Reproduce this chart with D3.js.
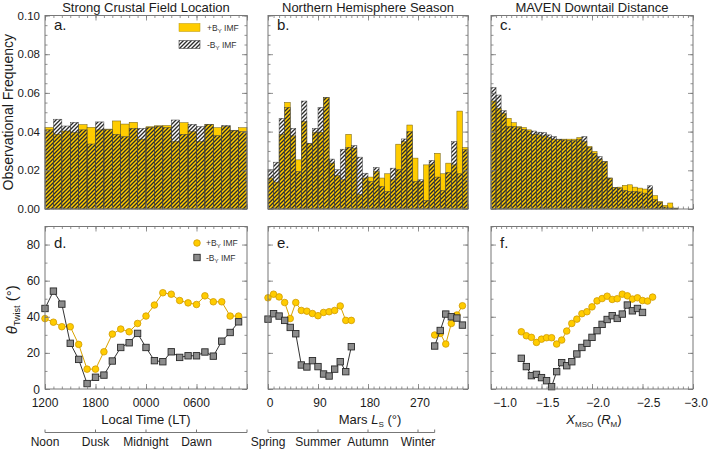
<!DOCTYPE html>
<html>
<head>
<meta charset="utf-8">
<script src="https://cdn.jsdelivr.net/npm/d3@7"></script>
<style>
  body { margin: 0; background: #fff; }
  svg { display: block; font-family: "Liberation Sans", Arial, sans-serif; }
</style>
</head>
<body>
<script>
// ---- data ----
// panel a: local time bins (hour start, 12 = noon, 24 = midnight)
var ltBins = [12, 13, 14, 15, 16, 17, 18, 19, 20, 21, 22, 23, 24, 25, 26, 27, 28, 29, 30, 31, 32, 33, 34, 35];
var freqPosA = [0.0421, 0.0386, 0.0403, 0.0395, 0.0436, 0.0422, 0.0409, 0.0413, 0.0455, 0.0439, 0.0448, 0.0361,
  0.0425, 0.0430, 0.0431, 0.0349, 0.0446, 0.0400, 0.0349, 0.0438, 0.0420, 0.0426, 0.0407, 0.0420];
var freqNegA = [0.0409, 0.0464, 0.0429, 0.0448, 0.0409, 0.0336, 0.0450, 0.0410, 0.0386, 0.0374, 0.0417, 0.0417,
  0.0422, 0.0428, 0.0421, 0.0460, 0.0386, 0.0438, 0.0426, 0.0438, 0.0379, 0.0432, 0.0407, 0.0400];

// panel b: Mars Ls bins (10 deg)
var lsBins = [0, 10, 20, 30, 40, 50, 60, 70, 80, 90, 100, 110, 120, 130, 140, 150, 160, 170,
  180, 190, 200, 210, 220, 230, 240, 250, 260, 270, 280, 290, 300, 310, 320, 330, 340, 350];
var freqPosB = [0.0160, 0.0139, 0.0386, 0.0551, 0.0378, 0.0254, 0.0452, 0.0338, 0.0395, 0.0397, 0.0575, 0.0237,
  0.0172, 0.0151, 0.0386, 0.0314, 0.0074, 0.0160, 0.0165, 0.0194, 0.0160, 0.0182, 0.0151, 0.0335,
  0.0348, 0.0434, 0.0263, 0.0142, 0.0228, 0.0232, 0.0288, 0.0182, 0.0237, 0.0228, 0.0506, 0.0318];
var freqNegB = [0.0203, 0.0242, 0.0469, 0.0525, 0.0417, 0.0194, 0.0558, 0.0340, 0.0417, 0.0525, 0.0577, 0.0258,
  0.0203, 0.0309, 0.0319, 0.0328, 0.0268, 0.0185, 0.0142, 0.0215, 0.0117, 0.0091, 0.0211, 0.0203,
  0.0362, 0.0400, 0.0142, 0.0151, 0.0045, 0.0251, 0.0165, 0.0096, 0.0189, 0.0348, 0.0182, 0.0306];

// panel c: X_MSO bins (0.05 RM, bin start)
var xBins = [-1.00, -1.05, -1.10, -1.15, -1.20, -1.25, -1.30, -1.35, -1.40, -1.45, -1.50, -1.55, -1.60, -1.65,
  -1.70, -1.75, -1.80, -1.85, -1.90, -1.95, -2.00, -2.05, -2.10, -2.15, -2.20, -2.25, -2.30, -2.35,
  -2.40, -2.45, -2.50, -2.55, -2.60, -2.65, -2.70, -2.75, -2.80, -2.85, -2.90, -2.95];
var freqPosC = [0.0558, 0.0520, 0.0494, 0.0469, 0.0446, 0.0426, 0.0421, 0.0409, 0.0386, 0.0383, 0.0378, 0.0369,
  0.0361, 0.0360, 0.0361, 0.0361, 0.0361, 0.0369, 0.0348, 0.0323, 0.0297, 0.0258, 0.0245, 0.0160,
  0.0112, 0.0113, 0.0122, 0.0125, 0.0113, 0.0108, 0.0103, 0.0100, 0.0069, 0.0039, 0.0019, 0.0031,
  0.0005, 0, 0, 0];
var freqNegC = [0.0628, 0.0589, 0.0508, 0.0426, 0.0426, 0.0421, 0.0412, 0.0403, 0.0403, 0.0397, 0.0395, 0.0383,
  0.0374, 0.0361, 0.0357, 0.0354, 0.0354, 0.0361, 0.0374, 0.0319, 0.0288, 0.0271, 0.0245, 0.0160,
  0.0112, 0.0108, 0.0096, 0.0091, 0.0091, 0.0088, 0.0082, 0.0120, 0.0048, 0.0034, 0.0010, 0.0005,
  0.0002, 0, 0, 0];

// panel d: twist angle vs local time
var ltPts = [12, 13, 14, 15, 16, 17, 18, 19, 20, 21, 22, 23, 24, 25, 26, 27, 28, 29, 30, 31, 32, 33, 34, 35];
var twistPosD = [39, 37, 34.5, 34.5, 24.7, 11, 11, 20.6, 30.4, 33.2, 31.7, 36.3, 40.4, 46.5, 53.3, 52.5,
  49, 47.7, 46.8, 51.6, 48.3, 48.3, 40.4, 40.4];
var twistNegD = [44.6, 54.2, 47, 25.3, 16.4, 3, 6.5, 7.7, 15.5, 23, 25.6, 30.8, 23, 15.7, 15.1, 20.6,
  17.5, 18.4, 18.4, 20.5, 18.2, 26.5, 31.3, 37.2];

// panel e: twist angle vs Ls (no data 160-290)
var lsPts = [0, 10, 20, 30, 40, 50, 60, 70, 80, 90, 100, 110, 120, 130, 140, 150, 300, 310, 320, 330, 340, 350];
var twistPosE = [50.5, 52.5, 51, 47.9, 39, 47.9, 43.5, 43.1, 41.8, 40.6, 42.4, 42.8, 43.5, 46, 38, 38,
  29.9, 30.8, 24.9, 36.3, 41, 46.1];
var twistNegE = [38.7, 41.7, 40.4, 38, 34.1, 30.6, 13.3, 12.2, 15.7, 12.4, 8.3, 7.2, 11, 15.1, 9.6, 23.4,
  23.8, 32.4, 41.5, 40, 39.3, 35.4];

// panel f: twist angle vs X_MSO
var xPtsPos = [-1.30, -1.35, -1.40, -1.45, -1.50, -1.55, -1.60, -1.65, -1.70, -1.75, -1.80, -1.85, -1.90, -1.95,
  -2.00, -2.05, -2.10, -2.15, -2.20, -2.25, -2.30, -2.35, -2.40, -2.45, -2.50, -2.55, -2.60];
var twistPosF = [31.7, 29.5, 28.6, 25.8, 27.6, 28.4, 28.4, 24.9, 27.1, 32.1, 36.3, 38.7, 41.7, 42.8, 45.5,
  48.8, 50.1, 51.4, 49.6, 50, 52.5, 51.6, 49.8, 50.5, 49, 48.7, 50.9];
var xPtsNeg = [-1.30, -1.35, -1.40, -1.45, -1.50, -1.55, -1.60, -1.65, -1.70, -1.75, -1.80, -1.85, -1.90, -1.95,
  -2.00, -2.05, -2.10, -2.15, -2.20, -2.25, -2.30, -2.35, -2.40, -2.45, -2.50];
var twistNegF = [17, 12.4, 7.4, 8.1, 6.3, 4.6, 1.3, 9.6, 14.6, 12.9, 15.1, 19.4, 23, 25.3, 28.6, 32.3,
  35.8, 38.5, 40.6, 39.1, 41.5, 46.5, 43.3, 44.6, 42.4];

// tick labels
var freqTicks = [0, 0.02, 0.04, 0.06, 0.08, 0.10];
var twistTicks = [0, 20, 40, 60, 80];
var ltTicks = [12, 18, 24, 30];
var lsTicks = [0, 90, 180, 270];
var xTicks = [-1.0, -1.5, -2.0, -2.5, -3.0];
var dayNames = ["Noon", "Dusk", "Midnight", "Dawn"];
var seasonNames = ["Spring", "Summer", "Autumn", "Winter"];
var titles = ["Strong Crustal Field Location", "Northern Hemisphere Season", "MAVEN Downtail Distance"];

// ---- layout ----
var yellow = "#ffcc00";
var frameColor = "#777";
var textColor = "#1a1a1a";

var svg = d3.select("body").append("svg")
  .attr("width", 709)
  .attr("height", 449);

var defs = svg.append("defs");
var pat = defs.append("pattern")
  .attr("id", "hatch")
  .attr("patternUnits", "userSpaceOnUse")
  .attr("width", 4)
  .attr("height", 4);
pat.append("path")
  .attr("d", "M-1,1 l2,-2 M0,4 l4,-4 M3,5 l2,-2")
  .attr("stroke", "#2b2b2b")
  .attr("stroke-width", 1.35);

var xLT = d3.scaleLinear().domain([12, 36]).range([45, 247]);
var xLS = d3.scaleLinear().domain([0, 360]).range([268, 468]);
var xX = d3.scaleLinear().domain([-1, -3]).range([491, 693]);
var yFreq = d3.scaleLinear().domain([0, 0.1]).range([209, 15.5]);
var yTw = d3.scaleLinear().domain([0, 90]).range([389, 226.5]);

// ticks pointing into the frame on one side
function sideTicks(scale, orient, pos, values, len) {
  var mk = { bottom: d3.axisBottom, top: d3.axisTop, left: d3.axisLeft, right: d3.axisRight }[orient];
  var axis = mk(scale).tickValues(values).tickSizeInner(-len).tickSizeOuter(0).tickFormat("");
  var horiz = orient === "bottom" || orient === "top";
  var g = svg.append("g")
    .attr("transform", horiz ? "translate(0," + pos + ")" : "translate(" + pos + ",0)")
    .call(axis);
  g.select(".domain").remove();
  g.selectAll("text").remove();
  g.selectAll("line").attr("stroke", frameColor).attr("stroke-width", 0.8);
}

function frame(xs, ys, xMajor, xMinor, yMajor, yMinor) {
  var x0 = xs.range()[0], x1 = xs.range()[1];
  var y0 = ys.range()[1], y1 = ys.range()[0];
  [["bottom", y1], ["top", y0]].forEach(function (s) {
    sideTicks(xs, s[0], s[1], xMinor, 2.5);
    sideTicks(xs, s[0], s[1], xMajor, 5);
  });
  [["left", x0], ["right", x1]].forEach(function (s) {
    sideTicks(ys, s[0], s[1], yMinor, 2.5);
    sideTicks(ys, s[0], s[1], yMajor, 5);
  });
  svg.append("rect")
    .attr("x", x0).attr("y", y0)
    .attr("width", x1 - x0).attr("height", y1 - y0)
    .attr("fill", "none")
    .attr("stroke", frameColor)
    .attr("stroke-width", 1);
}

function histogram(xs, bins, width, pos, neg) {
  var g = svg.append("g");
  g.selectAll(".pos").data(bins).enter().append("rect")
    .attr("class", "pos")
    .attr("x", function (d) { return Math.min(xs(d), xs(d + width)); })
    .attr("width", function (d) { return Math.abs(xs(d + width) - xs(d)); })
    .attr("y", function (d, i) { return yFreq(pos[i]); })
    .attr("height", function (d, i) { return yFreq(0) - yFreq(pos[i]); })
    .attr("fill", yellow)
    .attr("stroke", "#6b5a10")
    .attr("stroke-width", 0.5);
  g.selectAll(".neg").data(bins).enter().append("rect")
    .attr("class", "neg")
    .attr("x", function (d) { return Math.min(xs(d), xs(d + width)); })
    .attr("width", function (d) { return Math.abs(xs(d + width) - xs(d)); })
    .attr("y", function (d, i) { return yFreq(neg[i]); })
    .attr("height", function (d, i) { return yFreq(0) - yFreq(neg[i]); })
    .attr("fill", "url(#hatch)")
    .attr("stroke", "#444")
    .attr("stroke-width", 0.5);
}

// split a series into runs where consecutive x are one step apart
function runs(xs, ys, step) {
  var out = [], cur = [];
  xs.forEach(function (x, i) {
    if (cur.length && Math.abs(x - cur[cur.length - 1][0]) > step * 1.5) { out.push(cur); cur = []; }
    cur.push([x, ys[i]]);
  });
  if (cur.length) out.push(cur);
  return out;
}

function lineSeries(xs, xVals, yVals, step, kind) {
  var line = d3.line().x(function (d) { return xs(d[0]); }).y(function (d) { return yTw(d[1]); });
  var pts = xVals.map(function (x, i) { return [x, yVals[i]]; });
  var g = svg.append("g");
  runs(xVals, yVals, step).forEach(function (r) {
    g.append("path").attr("d", line(r)).attr("fill", "none")
      .attr("stroke", kind === "pos" ? "#d9a300" : "#333")
      .attr("stroke-width", 1);
  });
  if (kind === "pos") {
    g.selectAll("circle").data(pts).enter().append("circle")
      .attr("cx", function (d) { return xs(d[0]); })
      .attr("cy", function (d) { return yTw(d[1]); })
      .attr("r", 3.3)
      .attr("fill", yellow)
      .attr("stroke", "#d19a00")
      .attr("stroke-width", 0.8);
  } else {
    g.selectAll("rect").data(pts).enter().append("rect")
      .attr("x", function (d) { return xs(d[0]) - 3.2; })
      .attr("y", function (d) { return yTw(d[1]) - 3.2; })
      .attr("width", 6.4).attr("height", 6.4)
      .attr("fill", "#8c8c8c")
      .attr("stroke", "#2a2a2a")
      .attr("stroke-width", 0.9);
  }
}

// ---- top row: histograms ----
histogram(xLT, ltBins, 1, freqPosA, freqNegA);
histogram(xLS, lsBins, 10, freqPosB, freqNegB);
histogram(xX, xBins, -0.05, freqPosC, freqNegC);

var freqMinor = d3.range(0, 0.1001, 0.005);
var ltMinor = d3.range(12, 36.01, 1), ltMajor = [12, 18, 24, 30, 36];
var lsMinor = d3.range(0, 360.1, 10), lsMajor = [0, 90, 180, 270, 360];
var xMinor = d3.range(-1, -3.001, -0.05), xMajor = [-1, -1.5, -2, -2.5, -3];
var twMinor = d3.range(0, 90.1, 10), twMajor = [0, 20, 40, 60, 80];

frame(xLT, yFreq, ltMajor, ltMinor, freqTicks, freqMinor);
frame(xLS, yFreq, lsMajor, lsMinor, freqTicks, freqMinor);
frame(xX, yFreq, xMajor, xMinor, freqTicks, freqMinor);

// ---- bottom row: twist angle ----
lineSeries(xLT, ltPts, twistPosD, 1, "pos");
lineSeries(xLT, ltPts, twistNegD, 1, "neg");
lineSeries(xLS, lsPts, twistPosE, 10, "pos");
lineSeries(xLS, lsPts, twistNegE, 10, "neg");
lineSeries(xX, xPtsPos, twistPosF, 0.05, "pos");
lineSeries(xX, xPtsNeg, twistNegF, 0.05, "neg");

frame(xLT, yTw, ltMajor, ltMinor, twMajor, twMinor);
frame(xLS, yTw, lsMajor, lsMinor, twMajor, twMinor);
frame(xX, yTw, xMajor, xMinor, twMajor, twMinor);

// ---- text ----
var txt = svg.append("g").attr("fill", textColor);

titles.forEach(function (t, i) {
  var xs = [xLT, xLS, xX][i];
  txt.append("text")
    .attr("x", (xs.range()[0] + xs.range()[1]) / 2)
    .attr("y", 11.5)
    .attr("text-anchor", "middle")
    .attr("font-size", 13)
    .text(t);
});

["a.", "b.", "c."].forEach(function (t, i) {
  var xs = [xLT, xLS, xX][i];
  txt.append("text").attr("x", xs.range()[0] + 9).attr("y", 30)
    .attr("font-size", 15).text(t);
});
["d.", "e.", "f."].forEach(function (t, i) {
  var xs = [xLT, xLS, xX][i];
  txt.append("text").attr("x", xs.range()[0] + 9).attr("y", 248)
    .attr("font-size", 15).text(t);
});

// y tick labels
freqTicks.forEach(function (v) {
  txt.append("text").attr("x", 40).attr("y", yFreq(v) + 4)
    .attr("text-anchor", "end").attr("font-size", 11.5).text(d3.format(".2f")(v));
});
twistTicks.forEach(function (v) {
  txt.append("text").attr("x", 40).attr("y", yTw(v) + 4.5)
    .attr("text-anchor", "end").attr("font-size", 12).text(v);
});

// y axis titles
txt.append("text")
  .attr("transform", "translate(13," + (yFreq(0.05)) + ") rotate(-90)")
  .attr("text-anchor", "middle")
  .attr("font-size", 14)
  .text("Observational Frequency");

var th = txt.append("text")
  .attr("transform", "translate(17," + (yTw(45) + 2) + ") rotate(-90)")
  .attr("text-anchor", "middle")
  .attr("font-size", 15);
th.append("tspan").attr("font-style", "italic").text("\u03b8");
th.append("tspan").attr("font-size", 9).attr("dy", 3).text("Twist");
th.append("tspan").attr("dy", -3).text(" (\u00b0)");

// x tick labels
ltTicks.forEach(function (v) {
  txt.append("text").attr("x", xLT(v)).attr("y", 407)
    .attr("text-anchor", "middle").attr("font-size", 12)
    .text(d3.format("02d")(v % 24) + "00");
});
lsTicks.forEach(function (v) {
  txt.append("text").attr("x", xLS(v) + 2).attr("y", 407)
    .attr("text-anchor", "middle").attr("font-size", 12).text(v);
});
var xLabelShift = [14, 6, 6, 6, 3];
xTicks.forEach(function (v, i) {
  txt.append("text").attr("x", xX(v) + xLabelShift[i]).attr("y", 407)
    .attr("text-anchor", "middle").attr("font-size", 12).text(d3.format(".1f")(v));
});

// x axis titles
txt.append("text").attr("x", (xLT(12) + xLT(36)) / 2).attr("y", 424)
  .attr("text-anchor", "middle").attr("font-size", 13).text("Local Time (LT)");

var ls = txt.append("text").attr("x", (xLS(0) + xLS(360)) / 2 + 2).attr("y", 424)
  .attr("text-anchor", "middle").attr("font-size", 13);
ls.append("tspan").text("Mars ");
ls.append("tspan").attr("font-style", "italic").text("L");
ls.append("tspan").attr("font-size", 8).attr("dy", 3).text("S");
ls.append("tspan").attr("dy", -3).text(" (\u00b0)");

var xm = txt.append("text").attr("x", (xX(-1) + xX(-3)) / 2 + 2).attr("y", 424)
  .attr("text-anchor", "middle").attr("font-size", 13);
xm.append("tspan").attr("font-style", "italic").text("X");
xm.append("tspan").attr("font-size", 8).attr("dy", 3).text("MSO");
xm.append("tspan").attr("dy", -3).text(" (");
xm.append("tspan").attr("font-style", "italic").text("R");
xm.append("tspan").attr("font-size", 8).attr("dy", 3).text("M");
xm.append("tspan").attr("dy", -3).text(")");

// secondary axes: day phases and seasons
function phaseAxis(xs, from, to, marks, names) {
  var yLine = 432.5;
  svg.append("line")
    .attr("x1", xs(from)).attr("x2", xs(to))
    .attr("y1", yLine).attr("y2", yLine)
    .attr("stroke", frameColor).attr("stroke-width", 1);
  marks.forEach(function (m) {
    svg.append("line")
      .attr("x1", xs(m)).attr("x2", xs(m))
      .attr("y1", yLine).attr("y2", yLine - 3)
      .attr("stroke", frameColor).attr("stroke-width", 1);
  });
  names.forEach(function (n, i) {
    txt.append("text").attr("x", xs(marks[i])).attr("y", 446)
      .attr("text-anchor", "middle").attr("font-size", 12).text(n);
  });
}
phaseAxis(xLT, 12, 36, [12, 18, 24, 30, 36], dayNames);
phaseAxis(xLS, 0, 300, [0, 90, 180, 270, 300], seasonNames);

// ---- legends ----
var legA = svg.append("g").attr("font-size", 8.5).attr("fill", "#333");
legA.append("rect").attr("x", 179).attr("y", 23.5).attr("width", 21).attr("height", 8)
  .attr("fill", yellow).attr("stroke", "#b8960a").attr("stroke-width", 0.5);
legA.append("rect").attr("x", 179).attr("y", 40.5).attr("width", 21).attr("height", 8)
  .attr("fill", "url(#hatch)").attr("stroke", "#444").attr("stroke-width", 0.6);
[["+B", 31], ["-B", 48]].forEach(function (l) {
  var t = legA.append("text").attr("x", 207).attr("y", l[1]);
  t.append("tspan").text(l[0]);
  t.append("tspan").attr("font-size", 6).attr("dy", 2).text("Y");
  t.append("tspan").attr("dy", -2).text(" IMF");
});

var legD = svg.append("g").attr("font-size", 8.5).attr("fill", "#333");
legD.append("circle").attr("cx", 197).attr("cy", 243).attr("r", 3.3)
  .attr("fill", yellow).attr("stroke", "#d19a00").attr("stroke-width", 0.8);
legD.append("rect").attr("x", 193.8).attr("y", 254.3).attr("width", 6.4).attr("height", 6.4)
  .attr("fill", "#8c8c8c").attr("stroke", "#2a2a2a").attr("stroke-width", 0.9);
[["+B", 246], ["-B", 260.5]].forEach(function (l) {
  var t = legD.append("text").attr("x", 206).attr("y", l[1]);
  t.append("tspan").text(l[0]);
  t.append("tspan").attr("font-size", 6).attr("dy", 2).text("Y");
  t.append("tspan").attr("dy", -2).text(" IMF");
});
</script>
</body>
</html>
